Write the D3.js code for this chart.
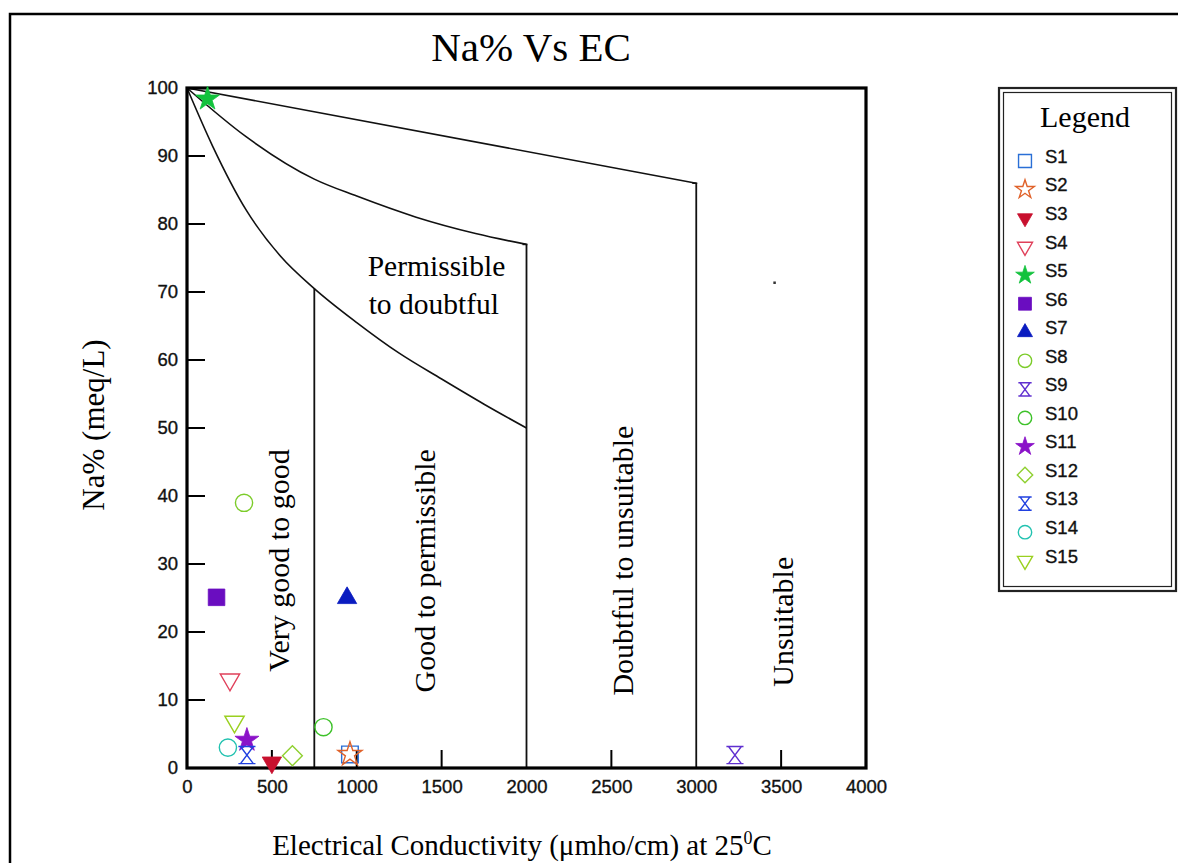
<!DOCTYPE html>
<html><head><meta charset="utf-8">
<script src="https://cdn.jsdelivr.net/npm/d3@7/dist/d3.min.js"></script>
<style>
html,body{margin:0;padding:0;background:#fff;}
svg{display:block;}
</style></head>
<body>
<svg id="chart" width="1178" height="863"></svg>
<script>
// ---- Data ----
const samples = ["S1","S2","S3","S4","S5","S6","S7","S8","S9","S10","S11","S12","S13","S14","S15"];
const ecValues = [960, 960, 500, 253, 121, 174, 943, 336, 3228, 804, 353, 621, 353, 241, 280];
const naValues = [2.0, 2.0, 0.8, 13.0, 98.4, 25.1, 25.0, 39.0, 1.9, 6.0, 4.1, 1.8, 1.9, 3.0, 6.8];
const markerShapes = ["squareOpen","starOpen","triDownFill","triDownOpen","starFill","squareFill","triUpFill","circleOpen","hourglass","circleOpen","starFill","diamondOpen","hourglass","circleOpen","triDownOpen"];
const markerColors = ["#2a6fd6","#e0622a","#c8102e","#e0405a","#12c23c","#6a0dc0","#0a1cc0","#7ccc2a","#6030d0","#3ec22a","#8a12c8","#8fd030","#2040e0","#22c2b0","#9ad020"];

// Boundary curves (EC, Na%)
const curveLowerEC = [0, 150, 350, 550, 750, 1000, 1250, 1500, 1750, 2000];
const curveLowerNa = [100, 91.5, 82, 75.3, 70.5, 65.5, 61.0, 57.2, 53.5, 50];
const curveMiddleEC = [0, 350, 750, 1000, 1350, 1700, 2000];
const curveMiddleNa = [100, 92.8, 86.6, 84.1, 81.0, 78.6, 77];
const lineTopEC = [0, 3000];
const lineTopNa = [100, 86];
const verticalEC = [750, 2000, 3000];
const verticalTopNa = [70.5, 77, 86];
const strayDotEC = [3460];
const strayDotNa = [71.4];

const xTicks = [0, 500, 1000, 1500, 2000, 2500, 3000, 3500, 4000];
const yTicks = [0, 10, 20, 30, 40, 50, 60, 70, 80, 90, 100];

const zoneLabels = ["Very good to good", "Good to permissible", "Doubtful to unsuitable", "Unsuitable"];
const zoneLabelEC = [540, 1400, 2565, 3510];
const zoneLabelNa = [30.5, 29, 30.5, 21.5];

// ---- Layout ----
const svg = d3.select("#chart");
const L = 187, R = 866, T = 88, B = 768;
const x = d3.scaleLinear().domain([0, 4000]).range([L, R]);
const y = d3.scaleLinear().domain([0, 100]).range([B, T]);
const serif = "'Liberation Serif','Times New Roman',serif";
const sans = "'Liberation Sans',Arial,sans-serif";

// outer frame
svg.append("path").attr("d", `M10,863 L10,14 L1178,14`).attr("fill","none").attr("stroke","#000").attr("stroke-width",2.5);

// title
svg.append("text").attr("x", 531).attr("y", 61).attr("text-anchor","middle")
  .attr("font-family", serif).attr("font-size", 41).text("Na% Vs EC");

// boundary lines
const lineGen = d3.line().x(d => x(d[0])).y(d => y(d[1])).curve(d3.curveMonotoneX);
const g = svg.append("g");
function drawCurve(ec, na){
  g.append("path").datum(ec.map((v,i)=>[v, na[i]])).attr("d", lineGen)
    .attr("fill","none").attr("stroke","#111").attr("stroke-width",1.6);
}
drawCurve(curveLowerEC, curveLowerNa);
drawCurve(curveMiddleEC, curveMiddleNa);
drawCurve(lineTopEC, lineTopNa);
verticalEC.forEach((v,i)=>{
  g.append("line").attr("x1", x(v)).attr("x2", x(v)).attr("y1", y(0)).attr("y2", y(verticalTopNa[i]))
    .attr("stroke","#111").attr("stroke-width",1.8);
});
[[2000,77],[3000,86]].forEach(p=>{
  g.append("line").attr("x1", x(p[0])-4).attr("x2", x(p[0])+1).attr("y1", y(p[1])).attr("y2", y(p[1]))
    .attr("stroke","#111").attr("stroke-width",1.6);
});

// axes
const xAxis = d3.axisBottom(x).tickValues(xTicks).tickFormat(d3.format("d")).tickSize(0).tickPadding(15);
const yAxis = d3.axisLeft(y).tickValues(yTicks).tickFormat(d3.format("d")).tickSize(0).tickPadding(9);
const gx = svg.append("g").attr("transform", `translate(0,${B})`).call(xAxis);
const gy = svg.append("g").attr("transform", `translate(${L},0)`).call(yAxis);
[gx, gy].forEach(a => {
  a.select(".domain").remove();
  a.selectAll("text").attr("font-family", sans).attr("font-size", 18.5).attr("fill","#111")
    .attr("stroke","#111").attr("stroke-width",0.35);
});
gx.selectAll("text").attr("dy","0.55em");
svg.append("g").selectAll("line").data(yTicks.slice(1,-1)).join("line")
  .attr("x1", L).attr("x2", L+18).attr("y1", d=>y(d)).attr("y2", d=>y(d))
  .attr("stroke","#000").attr("stroke-width",2);
svg.append("g").selectAll("line").data(xTicks.filter(v=>v>0 && v<4000 && v!==2000 && v!==3000)).join("line")
  .attr("x1", d=>x(d)).attr("x2", d=>x(d)).attr("y1", B).attr("y2", B-18)
  .attr("stroke","#000").attr("stroke-width",2);
svg.append("rect").attr("x", L).attr("y", T).attr("width", R-L).attr("height", B-T)
  .attr("fill","none").attr("stroke","#000").attr("stroke-width",3.2);

// zone labels
zoneLabels.forEach((t,i)=>{
  svg.append("text").attr("transform", `translate(${x(zoneLabelEC[i])},${y(zoneLabelNa[i])}) rotate(-90)`)
    .attr("text-anchor","middle").attr("dy","0.35em").attr("font-family", serif).attr("font-size", 30).text(t);
});
const permLines = ["Permissible", "to doubtful"];
const permEC = [1470, 1070];
const permNa = [72.3, 66.8];
permLines.forEach((t,i)=>{
  svg.append("text").attr("x", x(permEC[i])).attr("y", y(permNa[i]))
    .attr("text-anchor", i===0 ? "middle" : "start")
    .attr("font-family", serif).attr("font-size", 29.5).text(t);
});

// axis labels
svg.append("text").attr("transform", `translate(93,425) rotate(-90)`).attr("text-anchor","middle")
  .attr("dy","0.35em").attr("font-family", serif).attr("font-size", 31).text("Na% (meq/L)");
const xl = svg.append("text").attr("x", 522).attr("y", 855).attr("text-anchor","middle")
  .attr("font-family", serif).attr("font-size", 29);
xl.append("tspan").text("Electrical Conductivity (μmho/cm) at 25");
xl.append("tspan").attr("font-size", 18).attr("dy", -11).text("0");
xl.append("tspan").attr("dy", 11).text("C");

// markers
function hourglass(s){
  const h = s/2;
  return `M${-h},${-h}L${h},${-h}M${-h*0.75},${-h}L${h*0.75},${h}M${h*0.75},${-h}L${-h*0.75},${h}M${-h},${h}L${h},${h}`;
}
function diamond(s){
  const h = s/2;
  return `M0,${-h}L${h},0L0,${h}L${-h},0Z`;
}
function markerPath(shape, s){
  const a = s*s;
  switch(shape){
    case "squareOpen": case "squareFill": return d3.symbol(d3.symbolSquare, a*0.85)();
    case "starOpen": case "starFill": return d3.symbol(d3.symbolStar, a*0.55)();
    case "triDownFill": case "triDownOpen": case "triUpFill": return d3.symbol(d3.symbolTriangle, a*0.5)();
    case "circleOpen": return d3.symbol(d3.symbolCircle, a*0.72)();
    case "diamondOpen": return diamond(s*1.1);
    case "hourglass": return hourglass(s*0.95);
  }
}
function drawMarker(sel, shape, color, s){
  const filled = shape.endsWith("Fill");
  const rot = shape.startsWith("triDown") ? 180 : 0;
  sel.append("path").attr("d", markerPath(shape, s))
    .attr("transform", `rotate(${rot})`)
    .attr("fill", filled ? color : "none").attr("stroke", color).attr("stroke-width", filled ? 0.8 : 1.4);
}
const pts = svg.append("g");
samples.forEach((sname,i)=>{
  const gg = pts.append("g").attr("transform", `translate(${x(ecValues[i])},${y(naValues[i])})`);
  drawMarker(gg, markerShapes[i], markerColors[i], 18);
});
pts.selectAll("rect.stray").data(strayDotEC).join("rect").attr("class","stray")
  .attr("x", d=>x(d)-1).attr("y",(d,i)=>y(strayDotNa[i])-1).attr("width",2.5).attr("height",2.5).attr("fill","#333");

// legend
const lg = svg.append("g");
lg.append("rect").attr("x", 999).attr("y", 88).attr("width", 177).attr("height", 503)
  .attr("fill","#fff").attr("stroke","#222").attr("stroke-width",2.2);
lg.append("rect").attr("x", 1003.5).attr("y", 92.5).attr("width", 168).attr("height", 494)
  .attr("fill","none").attr("stroke","#222").attr("stroke-width",1.2);
lg.append("text").attr("x", 1085).attr("y", 127).attr("text-anchor","middle")
  .attr("font-family", serif).attr("font-size", 30).text("Legend");
samples.forEach((sname,i)=>{
  const yy = 161 + i*28.55;
  const gg = lg.append("g").attr("transform", `translate(1025,${yy})`);
  drawMarker(gg, markerShapes[i], markerColors[i], 14);
  lg.append("text").attr("x", 1045).attr("y", yy).attr("dy","0.1em")
    .attr("font-family", sans).attr("font-size", 18.5).attr("fill","#111")
    .attr("stroke","#111").attr("stroke-width",0.35).text(sname);
});
</script>
</body></html>
